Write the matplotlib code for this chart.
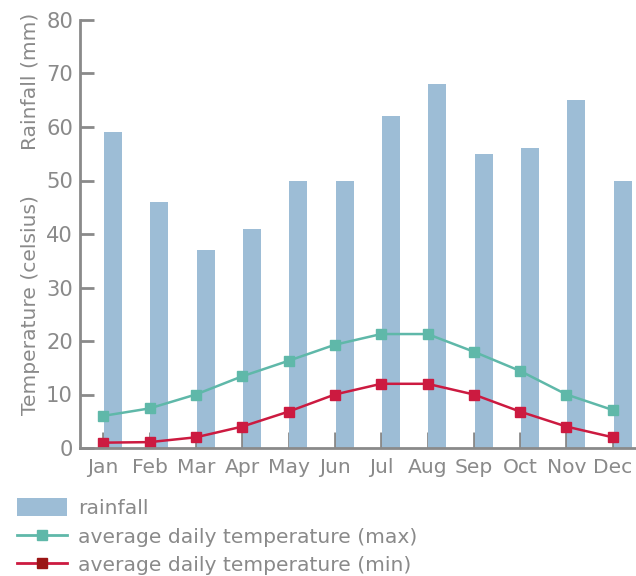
import numpy as np
import matplotlib
matplotlib.use('Agg')
import matplotlib.pyplot as plt
from matplotlib.lines import Line2D
from matplotlib.patches import Patch

months = ['Jan', 'Feb', 'Mar', 'Apr', 'May', 'Jun', 'Jul', 'Aug', 'Sep', 'Oct', 'Nov', 'Dec']
rainfall = [59, 46, 37, 41, 50, 50, 62, 68, 55, 56, 65, 50]
temp_max = [6, 7.4, 10, 13.4, 16.3, 19.3, 21.3, 21.3, 18, 14.4, 10, 7.1]
temp_min = [1, 1.1, 2, 4, 6.8, 10, 12, 12, 10, 6.8, 4, 2]
yticks = [0, 10, 20, 30, 40, 50, 60, 70, 80]

grey = '#8a8a8a'
bar_col = '#9dbdd6'
max_col = '#5fb8a9'
min_col = '#cc1a40'
fs = 14.6

plt.rcParams['font.family'] = ['DejaVu Sans']
fig = plt.figure(figsize=(6.36, 5.76), dpi=100)
ax = fig.add_axes([80/636, 1-448/576, 1-80/636, (448-20)/576])

x = np.arange(len(months))
ax.bar(x + 0.02, rainfall, width=0.39, align='edge', color=bar_col, zorder=2)
ax.plot(x, temp_max, color=max_col, lw=1.8, marker='s', ms=7, zorder=3)
ax.plot(x, temp_min, color=min_col, lw=1.8, marker='s', ms=7, zorder=3)

ax.set_xlim(-0.5, 11.5)
ax.set_ylim(0, 80)
ax.set_yticks(yticks)
ax.set_xticks(x)
ax.set_xticklabels(months)

for s in ['top', 'right']:
    ax.spines[s].set_visible(False)
for s in ['left', 'bottom']:
    ax.spines[s].set_color(grey)
    ax.spines[s].set_linewidth(2)
    ax.spines[s].set_zorder(4)

ax.tick_params(axis='y', direction='in', length=10, width=2, color=grey,
               labelcolor=grey, labelsize=fs + 0.6, pad=5)
ax.tick_params(axis='x', direction='in', length=11.5, width=2, color=grey,
               labelcolor=grey, labelsize=fs, pad=7)
ax.yaxis.get_major_ticks()[-1].tick1line.set_color('#6b2d5c')

fig.text(30/636, 1-81/576, 'Rainfall (mm)', rotation=90, ha='center', va='center',
         color=grey, fontsize=fs)
fig.text(30/636, 1-305/576, 'Temperature (celsius)', rotation=90, ha='center', va='center',
         color=grey, fontsize=fs)

handles = [
    Patch(facecolor=bar_col, edgecolor='none'),
    Line2D([], [], color=max_col, lw=2, marker='s', ms=7),
    Line2D([], [], color=min_col, lw=2, marker='s', ms=7, markerfacecolor='#9b1515',
           markeredgecolor='#9b1515'),
]
labels = ['rainfall', 'average daily temperature (max)', 'average daily temperature (min)']
leg = fig.legend(handles, labels, loc='upper left', bbox_to_anchor=(17/636, 1-498/576),
                 frameon=False, fontsize=fs, handlelength=2.45, handleheight=1.0,
                 handletextpad=0.55, labelspacing=0.42, borderaxespad=0, borderpad=0)
for t in leg.get_texts():
    t.set_color(grey)

fig.savefig('out.png', dpi=100)
